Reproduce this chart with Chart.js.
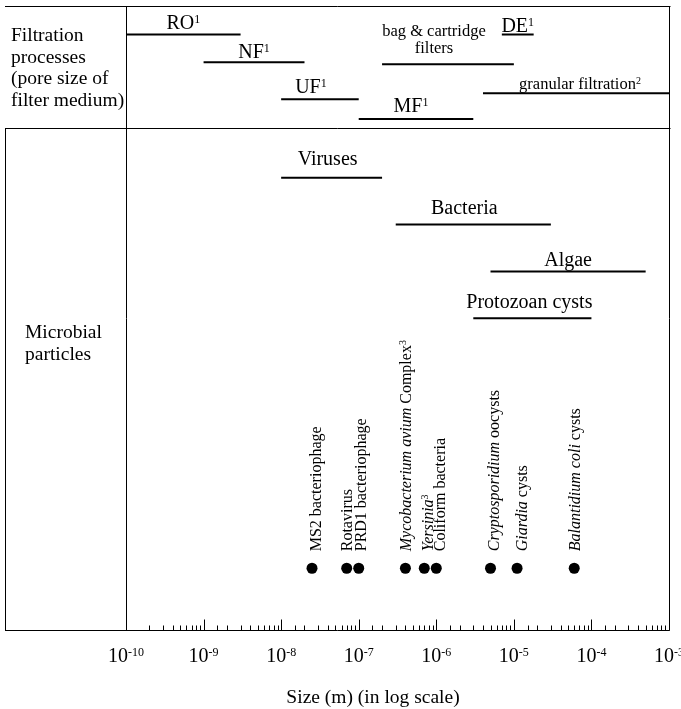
<!DOCTYPE html>
<html>
<head>
<meta charset="utf-8">
<script src="https://cdn.jsdelivr.net/npm/chart.js@4.4.1/dist/chart.umd.min.js"></script>
<style>
  html, body { margin: 0; padding: 0; background: #fff; overflow: hidden; }
  #wrap { width: 681px; height: 709px; }
</style>
</head>
<body>
<div id="wrap"><canvas id="chart" width="681" height="709"></canvas></div>
<script>
// --- data (sizes in metres) ---
const processNames = ['RO^1', 'NF^1', 'UF^1', 'MF^1', 'bag & cartridge\nfilters', 'DE^1', 'granular filtration^2'];
const processFrom = [1e-10, 1e-9, 1e-8, 1e-7, 2e-7, 7e-6, 4e-6];
const processTo = [3e-9, 2e-8, 1e-7, 3e-6, 1e-5, 1.8e-5, 1e-3];

const groupNames = ['Viruses', 'Bacteria', 'Algae', 'Protozoan cysts'];
const groupFrom = [1e-8, 3e-7, 5e-6, 3e-6];
const groupTo = [2e-7, 3e-5, 5e-4, 1e-4];

const organismNames = ['MS2 bacteriophage', 'Rotavirus', 'PRD1 bacteriophage',
  '_Mycobacterium avium_ Complex^3', '_Yersinia_^3', 'Coliform bacteria',
  '_Cryptosporidium_ oocysts', '_Giardia_ cysts', '_Balantidium coli_ cysts'];
const organismSize = [2.5e-8, 7e-8, 1e-7, 4e-7, 7e-7, 1e-6, 5e-6, 1.1e-5, 6e-5];

const xMin = 1e-10;
const xMax = 1e-3;
const axisTitle = 'Size (m) (in log scale)';
const rowTitles = [['Filtration', 'processes', '(pore size of', 'filter medium)'], ['Microbial', 'particles']];

// --- layout (y scale runs in canvas pixels from the top) ---
const processRow = [32, 60, 97, 117, 62, 32, 91];
const processLabelDx = [0, 0, -9, -5, -14, 0, 4];
const processLabelDy = [-5, -4, -6, -7, -28, -2, -4];
const groupRow = [176, 223, 270, 317];
const groupLabelDx = [-4, -9, 0, -3];
const groupLabelDy = [-13, -11, -5, -10];
const dotRow = 568;
const organismLabelDx = [9, 5, 7, 6, 9, 9, 8, 10, 6];
const SERIF = '"Liberation Serif", "Times New Roman", serif';

function fontFor(size, style) {
  if (style === 'sup') return Math.round(size * 0.6) + 'px ' + SERIF;
  return (style === 'i' ? 'italic ' : '') + size + 'px ' + SERIF;
}

// "_x_" = italic, "^c" = superscript character
function parseRich(str) {
  const parts = [];
  let italic = false, buf = '';
  const flush = () => { if (buf) parts.push([buf, italic ? 'i' : '']); buf = ''; };
  for (let i = 0; i < str.length; i++) {
    const ch = str[i];
    if (ch === '_') { flush(); italic = !italic; }
    else if (ch === '^') { flush(); parts.push([str[++i], 'sup']); }
    else buf += ch;
  }
  flush();
  return parts;
}

function drawRich(ctx, parts, x, y, size, align) {
  const widths = parts.map(([t, s]) => { ctx.font = fontFor(size, s); return ctx.measureText(t).width; });
  const total = widths.reduce((a, b) => a + b, 0);
  let cx = align === 'center' ? x - total / 2 : x;
  ctx.textAlign = 'left';
  ctx.textBaseline = 'alphabetic';
  parts.forEach(([t, s], i) => {
    ctx.font = fontFor(size, s);
    ctx.fillText(t, cx, s === 'sup' ? y - size * 0.32 : y);
    cx += widths[i];
  });
}

function rangeDataset(from, to, row) {
  return {
    data: [{ x: from, y: row }, { x: to, y: row }],
    showLine: true, borderColor: '#000', borderWidth: 2,
    pointRadius: 0, pointHoverRadius: 0
  };
}

const datasets = [];
processFrom.forEach((f, i) => datasets.push(rangeDataset(f, processTo[i], processRow[i])));
groupFrom.forEach((f, i) => datasets.push(rangeDataset(f, groupTo[i], groupRow[i])));
datasets.push({
  data: organismSize.map(v => ({ x: v, y: dotRow })),
  pointRadius: 5.5, pointHoverRadius: 5.5,
  backgroundColor: '#000', borderWidth: 0
});

const decorations = {
  id: 'decorations',
  afterDraw(chart) {
    const ctx = chart.ctx;
    const xs = chart.scales.x, ys = chart.scales.y;
    const area = chart.chartArea;
    const left = Math.round(area.left) + 0.5;
    const right = Math.round(area.right) + 0.5;
    const top = Math.round(area.top) + 0.5;
    const bottom = Math.round(area.bottom) - 0.5;
    const sep = 128.5;
    ctx.save();
    ctx.strokeStyle = '#000';
    ctx.fillStyle = '#000';
    ctx.lineWidth = 1;
    ctx.beginPath();
    ctx.moveTo(5, top); ctx.lineTo(right + 1, top);
    ctx.moveTo(5, sep); ctx.lineTo(right + 1, sep);
    ctx.moveTo(5, bottom); ctx.lineTo(right, bottom);
    ctx.moveTo(5.5, sep); ctx.lineTo(5.5, bottom);
    ctx.moveTo(left, top); ctx.lineTo(left, bottom);
    ctx.moveTo(right, top); ctx.lineTo(right, bottom);
    ctx.stroke();

    // ticks point up into the plot, labels as 10^n
    ctx.beginPath();
    xs.ticks.forEach(t => {
      const lg = Math.log10(t.value);
      const major = Math.abs(lg - Math.round(lg)) < 1e-6;
      const px = Math.round(xs.getPixelForValue(t.value)) + 0.5;
      ctx.moveTo(px, bottom);
      ctx.lineTo(px, bottom - (major ? 11 : 5));
    });
    ctx.stroke();
    xs.ticks.forEach(t => {
      const lg = Math.log10(t.value);
      if (Math.abs(lg - Math.round(lg)) > 1e-6) return;
      const px = xs.getPixelForValue(t.value);
      drawRich(ctx, [['10', ''], [String(Math.round(lg)), 'sup']], px, 662, 20, 'center');
    });

    // axis title
    ctx.font = fontFor(19.5, '');
    ctx.textAlign = 'center';
    ctx.fillText(axisTitle, 373, 703);

    // row titles
    rowTitles[0].forEach((s, i) => drawRich(ctx, [[s, '']], 11, 41 + i * 21.5, 19.5, 'left'));
    rowTitles[1].forEach((s, i) => drawRich(ctx, [[s, '']], 25, 338 + i * 22, 19.5, 'left'));

    // range labels
    processNames.forEach((name, i) => {
      const cx = (xs.getPixelForValue(processFrom[i]) + xs.getPixelForValue(processTo[i])) / 2 + processLabelDx[i];
      const base = ys.getPixelForValue(processRow[i]) + processLabelDy[i];
      const lines = name.split('\n');
      const size = lines.length > 1 || name.startsWith('granular') ? 16.5 : 20;
      lines.forEach((ln, k) => drawRich(ctx, parseRich(ln), cx, base + k * 17, size, 'center'));
    });
    groupNames.forEach((name, i) => {
      const cx = (xs.getPixelForValue(groupFrom[i]) + xs.getPixelForValue(groupTo[i])) / 2 + groupLabelDx[i];
      const base = ys.getPixelForValue(groupRow[i]) + groupLabelDy[i];
      drawRich(ctx, parseRich(name), cx, base, 20, 'center');
    });

    // organism labels, rotated
    organismNames.forEach((name, i) => {
      const px = xs.getPixelForValue(organismSize[i]) + organismLabelDx[i];
      const py = ys.getPixelForValue(dotRow) - 17;
      ctx.save();
      ctx.translate(px, py);
      ctx.rotate(-Math.PI / 2);
      drawRich(ctx, parseRich(name), 0, 0, 16, 'left');
      ctx.restore();
    });
    ctx.restore();
  }
};

new Chart(document.getElementById('chart'), {
  type: 'scatter',
  data: { datasets },
  options: {
    responsive: false,
    animation: false,
    devicePixelRatio: 1,
    layout: { padding: { left: 126, right: 12, top: 3, bottom: 78 } },
    plugins: { legend: { display: false }, tooltip: { enabled: false } },
    scales: {
      x: {
        type: 'logarithmic', min: xMin, max: xMax,
        grid: { display: false, drawTicks: false },
        border: { display: false },
        ticks: { display: false }
      },
      y: { type: 'linear', min: 3, max: 631, reverse: true, display: false }
    }
  },
  plugins: [decorations]
});
</script>
</body>
</html>
